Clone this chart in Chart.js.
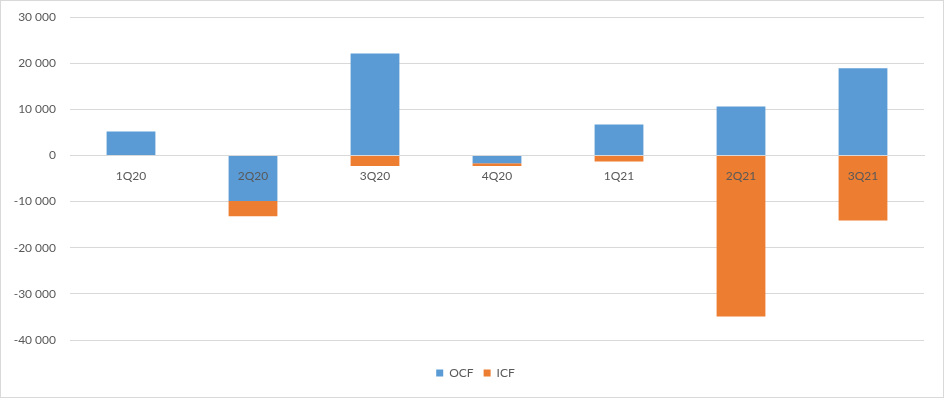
<!DOCTYPE html>
<html>
<head>
<meta charset="utf-8">
<script src="https://cdn.jsdelivr.net/npm/chart.js@4.4.1/dist/chart.umd.min.js"></script>
<style>
  html, body { margin: 0; padding: 0; background: #fff; }
  #wrap { width: 944px; height: 398px; box-sizing: border-box; border: 1px solid #d9d9d9; background: #fff; }
  #c { display: block; }
</style>
</head>
<body>
<div id="wrap"><canvas id="c" width="942" height="396"></canvas></div>
<script>
const categories = ['1Q20', '2Q20', '3Q20', '4Q20', '1Q21', '2Q21', '3Q21'];
const ocfValues = [5200, -9900, 22100, -1700, 6700, 10600, 18900];
const icfValues = [0, -3300, -2300, -600, -1300, -34900, -14100];
const yTicks = [-40000, -30000, -20000, -10000, 0, 10000, 20000, 30000];

function fmt(v) {
  const s = Math.abs(v).toString().replace(/\B(?=(\d{3})+(?!\d))/g, ' ');
  return (v < 0 ? '-' : '') + s;
}

const legendShift = {
  id: 'legendShift',
  afterLayout(chart) {
    const lg = chart.legend;
    if (lg) { lg.top += 17; lg.bottom += 17; lg.left += 13; lg.right += 13; }
  }
};

const FONT = { family: 'Lato, "Open Sans", sans-serif', size: 12 };
const GREY = '#595959';

new Chart(document.getElementById('c'), {
  type: 'bar',
  data: {
    labels: categories,
    datasets: [
      { label: 'OCF', data: ocfValues, backgroundColor: '#5B9BD5', borderWidth: 0 },
      { label: 'ICF', data: icfValues, backgroundColor: '#ED7D31', borderWidth: 0 }
    ]
  },
  options: {
    responsive: false,
    animation: false,
    devicePixelRatio: 1,
    layout: { padding: { top: 16, right: 19, bottom: 25, left: 0 } },
    datasets: { bar: { barPercentage: 0.4, categoryPercentage: 1.0 } },
    plugins: {
      tooltip: { enabled: false },
      legend: {
        position: 'bottom',
        labels: { boxWidth: 7, boxHeight: 7, padding: 10, color: GREY, font: FONT }
      }
    },
    scales: {
      x: {
        stacked: true,
        position: { y: 0 },
        grid: { display: false, drawTicks: false, z: 1 },
        border: { display: true, color: '#d9d9d9', width: 1, z: 1 },
        ticks: { color: GREY, font: FONT, padding: 13, maxRotation: 0, autoSkip: false, z: 1 }
      },
      y: {
        stacked: true,
        min: yTicks[0],
        max: yTicks[yTicks.length - 1],
        afterBuildTicks(scale) { scale.ticks = yTicks.map(v => ({ value: v })); },
        afterFit(scale) { scale.width = 69; scale.paddingTop = 0; scale.paddingBottom = 0; },
        grid: { color: '#d9d9d9', lineWidth: 1, drawTicks: false },
        border: { display: false },
        ticks: { color: GREY, font: FONT, padding: 14, callback: v => fmt(v) }
      }
    }
  },
  plugins: [legendShift]
});
</script>
</body>
</html>
